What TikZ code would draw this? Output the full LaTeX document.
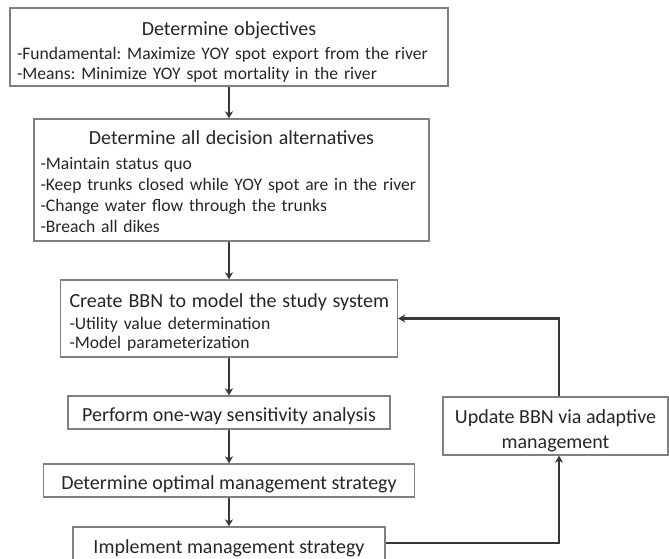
\documentclass[tikz,border=0pt]{standalone}
\usepackage{fontspec}
\setmainfont{Carlito}
\usetikzlibrary{arrows.meta}
\frenchspacing
\begin{document}
\begin{tikzpicture}[x=1pt,y=-1pt,
  box/.style={draw=black!50, line width=1.3pt, inner ysep=0pt, text=black!85,
    font=\fontsize{17.6}{21}\selectfont},
  onebox/.style={box, align=center, font=\fontsize{20}{25}\selectfont},
  flow/.style={draw=black!78, line width=2.3pt, -{Stealth[length=7pt,width=8pt,inset=2pt]}}]
\useasboundingbox (0,0) rectangle (669,559);
\node[box, minimum width=438pt, minimum height=78pt, text width=424pt, inner xsep=7pt, align=left] (obj) at (229,47)
  {\makebox[\linewidth]{\fontsize{20}{24}\selectfont\rule{0pt}{24pt}Determine objectives}\\[3pt]
   -Fundamental: Maximize YOY spot export from the river\\[-1pt]
   -Means: Minimize YOY spot mortality in the river};
\node[box, minimum width=395pt, minimum height=122pt, text width=382pt, inner xsep=6.5pt, align=left] (alt) at (231.5,180)
  {\makebox[\linewidth]{\fontsize{20}{24}\selectfont\rule{0pt}{18pt}Determine all decision alternatives}\\[4pt]
   -Maintain status quo\\
   \mbox{-Keep trunks closed while YOY spot are in the river}\\
   -Change water flow through the trunks\\
   -Breach all dikes};
\node[box, minimum width=337pt, minimum height=77pt, text width=319pt, inner xsep=9pt, align=left] (bbn) at (229,318.5)
  {\mbox{\fontsize{20}{24}\selectfont\rule{0pt}{21pt}Create BBN to model the study system}\\[1pt]
   -Utility value determination\\[-2pt]
   -Model parameterization};
\node[onebox, minimum width=322pt, minimum height=33pt] (sens) at (229,412.5) {\rule{0pt}{21pt}Perform one-way sensitivity analysis};
\node[onebox, minimum width=371pt, minimum height=33pt] (opt) at (229,480.5) {\rule{0pt}{21pt}Determine optimal management strategy};
\node[onebox, minimum width=312pt, minimum height=36pt] (impl) at (229,545) {\rule{0pt}{21pt}Implement management strategy};
\node[onebox, minimum width=225pt, minimum height=58pt] (upd) at (555.5,426) {\rule{0pt}{24pt}Update BBN via adaptive\\management};
% main sequence
\draw[flow] (obj) -- (obj |- alt.north);
\draw[flow] (alt.south -| bbn) -- (bbn);
\draw[flow] (bbn) -- (sens);
\draw[flow] (sens) -- (opt);
\draw[flow] (opt) -- (impl);
% feedback loop
\draw[flow] ([yshift=2pt]impl.east) -| ([xshift=3.5pt]upd.south);
\draw[flow] ([xshift=3.5pt]upd.north) |- (bbn.east);
\end{tikzpicture}
\end{document}
